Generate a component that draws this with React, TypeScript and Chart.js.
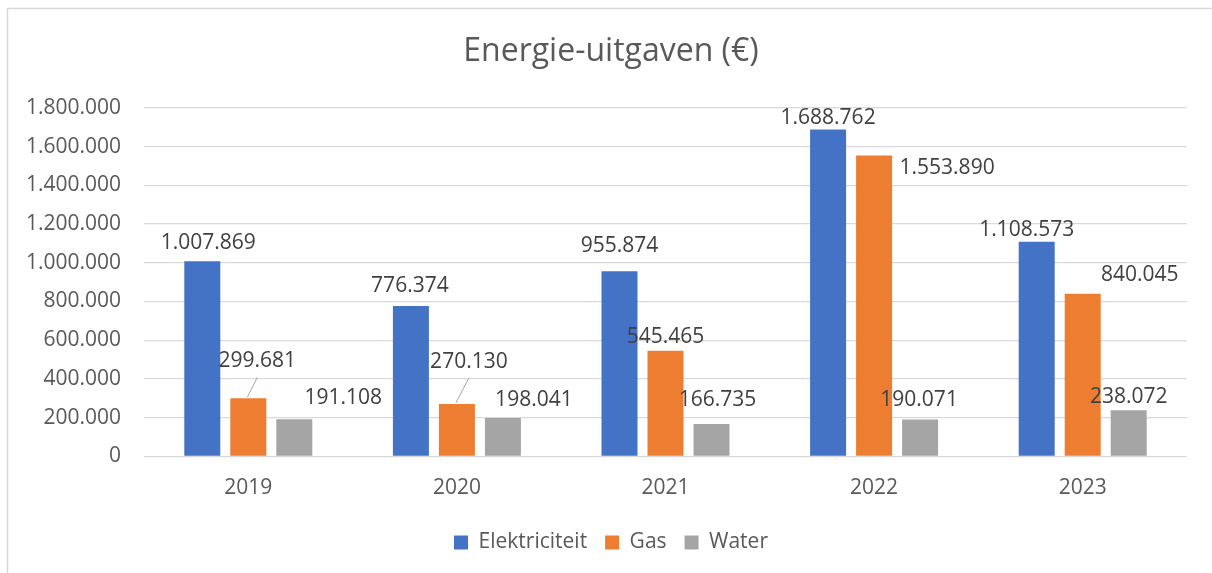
import React, { useEffect, useRef } from "react";
import { Chart, registerables, LinearScale } from "chart.js";

Chart.register(...registerables);

class LinearNoClip extends (LinearScale as any) {
  static id = "linearNoClip";
  static defaults = (LinearScale as any).defaults;
  _computeLabelArea() {
    return undefined;
  }
}
Chart.register(LinearNoClip as any);

const categories = ["2019", "2020", "2021", "2022", "2023"];
const elektriciteit = [1007869, 776374, 955874, 1688762, 1108573];
const gas = [299681, 270130, 545465, 1553890, 840045];
const water = [191108, 198041, 166735, 190071, 238072];
const seriesNames = ["Elektriciteit", "Gas", "Water"];
const yMax = 1800000;
const yStep = 200000;

const colors = ["#4472C4", "#ED7D31", "#A5A5A5"];
const FONT = "'Open Sans', sans-serif";

// label placement offsets (dx, dy) relative to bar top center, in px
const labelOffsets = [
  [[6, -20], [-1, -22], [0, -27], [0, -13], [-10, -13]],
  [[9, -39], [12, -44], [0, -15], [73, 11], [57, -20]],
  [[49, -23], [31, -19], [6, -26], [-1, -21], [0, -15]],
];
const leaderLines = [[1, 0], [1, 1]];

function fmt(v: number): string {
  return String(Math.round(v)).replace(/\B(?=(\d{3})+(?!\d))/g, ".");
}

const framePlugin = {
  id: "frame",
  beforeDraw(chart: any) {
    const ctx = chart.ctx;
    ctx.save();
    ctx.fillStyle = "#ffffff";
    ctx.fillRect(0, 0, chart.width, chart.height);
    ctx.strokeStyle = "#d9d9d9";
    ctx.lineWidth = 1.5;
    ctx.beginPath();
    ctx.moveTo(7.5, chart.height);
    ctx.lineTo(7.5, 8.5);
    ctx.lineTo(chart.width, 8.5);
    ctx.stroke();
    ctx.restore();
  },
};

const labelPlugin = {
  id: "barLabels",
  afterDatasetsDraw(chart: any) {
    const ctx = chart.ctx;
    ctx.save();
    ctx.font = `21px ${FONT}`;
    ctx.textAlign = "center";
    ctx.textBaseline = "alphabetic";
    chart.data.datasets.forEach((ds: any, di: number) => {
      const meta = chart.getDatasetMeta(di);
      meta.data.forEach((bar: any, i: number) => {
        const [dx, dy] = labelOffsets[di][i];
        const lx = bar.x + dx;
        const ly = bar.y + dy;
        if (leaderLines.some(([d, k]) => d === di && k === i)) {
          ctx.strokeStyle = "#a6a6a6";
          ctx.lineWidth = 1;
          ctx.beginPath();
          ctx.moveTo(bar.x - 1, bar.y - 1);
          ctx.lineTo(lx, ly + 18);
          ctx.stroke();
        }
        ctx.fillStyle = "#404040";
        ctx.fillText(fmt(ds.data[i]), lx, ly + 7.5);
      });
    });
    ctx.restore();
  },
};

export default function App() {
  const ref = useRef<HTMLCanvasElement | null>(null);
  useEffect(() => {
    document.body.style.margin = "0";
    if (!ref.current) return;
    const chart = new Chart(ref.current, {
      type: "bar",
      data: {
        labels: categories,
        datasets: [elektriciteit, gas, water].map((d, i) => ({
          label: seriesNames[i],
          data: d,
          backgroundColor: colors[i],
          borderWidth: 0,
          categoryPercentage: 0.6616,
          barPercentage: 0.7826,
        })),
      },
      options: {
        responsive: false,
        animation: false,
        layout: { padding: { left: 35, right: 25, top: 0, bottom: 10 } },
        plugins: {
          title: {
            display: true,
            text: "Energie-uitgaven (€)",
            color: "#595959",
            font: { family: FONT, size: 32, weight: "normal" },
            padding: { top: 33, bottom: 36.5 },
          },
          legend: {
            position: "bottom",
            labels: {
              color: "#595959",
              font: { family: FONT, size: 21 },
              boxWidth: 14,
              boxHeight: 14,
              padding: 18,
            },
          },
          tooltip: { enabled: false },
        },
        scales: {
          x: {
            grid: { display: false, drawTicks: false },
            border: { display: false },
            ticks: {
              color: "#595959",
              font: { family: FONT, size: 21 },
              padding: 19.5,
            },
            afterFit(scale: any) {
              scale.height -= 6.5;
            },
          },
          y: {
            type: "linearNoClip" as any,
            min: 0,
            max: yMax,
            afterFit(scale: any) {
              scale.width = 109;
            },
            grid: { color: "#d9d9d9", lineWidth: 1.3, drawTicks: false },
            border: { display: false },
            ticks: {
              stepSize: yStep,
              color: "#595959",
              font: { family: FONT, size: 21 },
              padding: 23,
              callback: (v: any) => fmt(Number(v)),
            },
          },
        },
      },
      plugins: [framePlugin, labelPlugin],
    });
    return () => chart.destroy();
  }, []);
  return (
    <div style={{ width: 1212, height: 573 }}>
      <canvas ref={ref} width={1212} height={573} />
    </div>
  );
}
